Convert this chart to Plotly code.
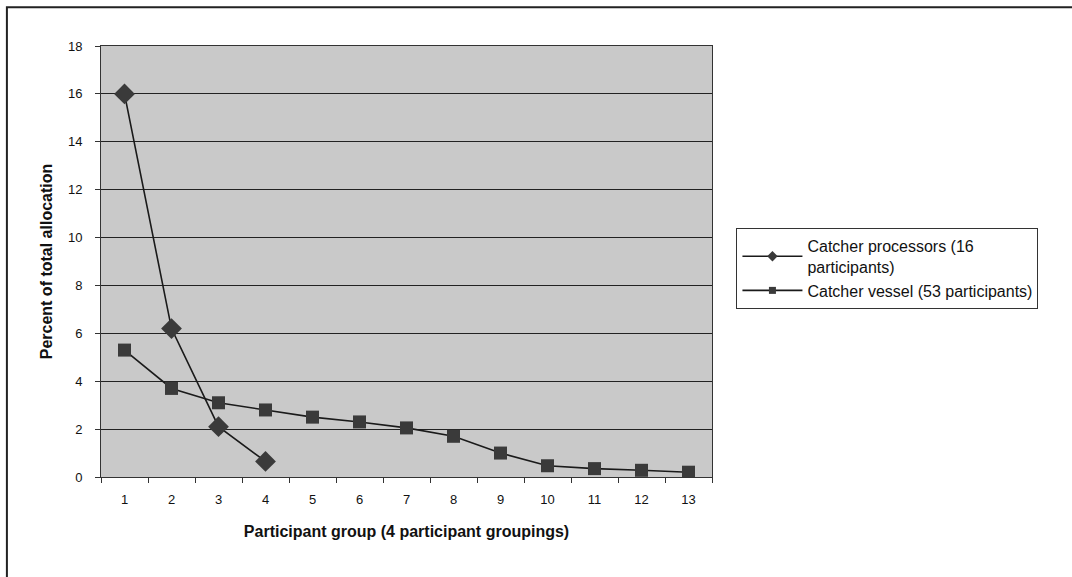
import plotly.graph_objects as go

groups = ["1", "2", "3", "4", "5", "6", "7", "8", "9", "10", "11", "12", "13"]
processors_groups = ["1", "2", "3", "4"]
processors = [16.0, 6.2, 2.1, 0.65]
vessels = [5.3, 3.7, 3.1, 2.8, 2.5, 2.3, 2.05, 1.7, 1.0, 0.47, 0.35, 0.28, 0.2]
y_ticks = [0, 2, 4, 6, 8, 10, 12, 14, 16, 18]
names = ["Catcher processors (16<br>participants)", "Catcher vessel (53 participants)"]

line_style = dict(color="#1a1a1a", width=1.6)

fig = go.Figure()
fig.add_trace(go.Scatter(
    x=processors_groups, y=processors, mode="lines+markers",
    name=names[0], showlegend=False,
    line=line_style,
    marker=dict(symbol="diamond", size=16, color="#3a3a3a", line=dict(width=0)),
))
fig.add_trace(go.Scatter(
    x=groups, y=vessels, mode="lines+markers",
    name=names[1], showlegend=False,
    line=line_style,
    marker=dict(symbol="square", size=13, color="#3a3a3a", line=dict(width=0)),
))
# legend entries with the small legend glyphs of the original
fig.add_trace(go.Scatter(
    x=[None], y=[None], mode="lines+markers", name=names[0],
    line=line_style, marker=dict(symbol="diamond", size=8, color="#3a3a3a"),
))
fig.add_trace(go.Scatter(
    x=[None], y=[None], mode="lines+markers", name=names[1],
    line=line_style, marker=dict(symbol="square", size=7, color="#3a3a3a"),
))

fig.update_layout(
    width=1072, height=577,
    margin=dict(l=101, r=360, t=46, b=100),
    paper_bgcolor="white",
    plot_bgcolor="#c9c9c9",
    font=dict(family="Liberation Sans, Arial, sans-serif", color="#111111", size=13),
    showlegend=True,
    legend=dict(
        x=1.04, y=0.578, xanchor="left", yanchor="top",
        bgcolor="white", bordercolor="#333333", borderwidth=1,
        font=dict(size=16, color="#111111"),
        itemwidth=60, tracegroupgap=6,
    ),
    xaxis=dict(
        type="category", categoryorder="array", categoryarray=groups,
        range=[-0.5, 12.5],
        showgrid=False, showline=True, linecolor="#333333", linewidth=1,
        ticks="outside", tickson="boundaries", ticklen=5, tickcolor="#333333",
        tickfont=dict(size=13), ticklabelstandoff=10,
        title=dict(text="<b>Participant group (4 participant groupings)</b>",
                   font=dict(size=16), standoff=20),
        mirror=True,
    ),
    yaxis=dict(
        range=[0, 18], tickvals=y_ticks,
        showgrid=True, gridcolor="#222222", gridwidth=1,
        showline=True, linecolor="#333333", linewidth=1,
        ticks="outside", ticklen=5, tickcolor="#333333",
        tickfont=dict(size=13), ticklabelstandoff=10,
        title=dict(text="<b>Percent of total allocation</b>",
                   font=dict(size=16), standoff=11),
        zeroline=False, mirror=True,
    ),
)

fig.add_shape(type="rect", xref="paper", yref="paper",
              x0=-0.154, x1=1.6, y0=-0.26, y1=1.09,
              line=dict(color="#222222", width=2), fillcolor="rgba(0,0,0,0)",
              layer="below")

fig.write_html("out.html")
